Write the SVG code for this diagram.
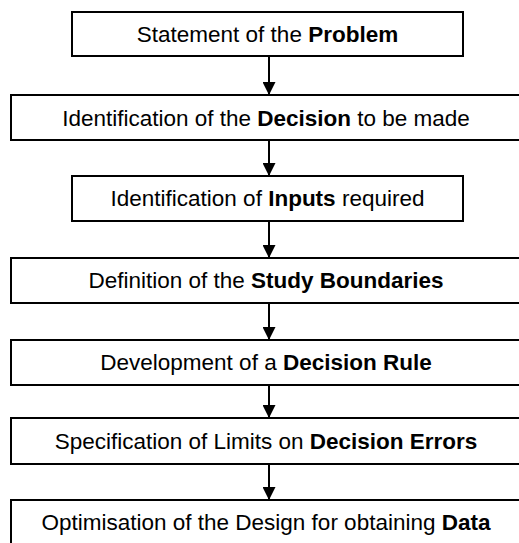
<svg xmlns="http://www.w3.org/2000/svg" width="519" height="543" viewBox="0 0 519 543">
<defs>
<style>
.box{fill:#fff;stroke:#000;stroke-width:2}
.t{font-family:"Liberation Sans",Arial,sans-serif;font-size:22.5px;fill:#000;text-anchor:middle}
.b{font-weight:bold}
.c{stroke:#000;stroke-width:2;fill:none}
</style>
<marker id="ah" markerWidth="13" markerHeight="13" viewBox="0 0 13 13" refX="13" refY="6.5" orient="auto" markerUnits="userSpaceOnUse">
<path d="M0,0 L13,6.5 L0,13 Z" fill="#000"/>
</marker>
</defs>
<rect width="519" height="543" fill="#fff"/>
<g id="connectors">
<line class="c" x1="269" y1="56" x2="269" y2="95" marker-end="url(#ah)"/>
<line class="c" x1="269" y1="140" x2="269" y2="176" marker-end="url(#ah)"/>
<line class="c" x1="269" y1="221" x2="269" y2="258" marker-end="url(#ah)"/>
<line class="c" x1="269" y1="303" x2="269" y2="340" marker-end="url(#ah)"/>
<line class="c" x1="269" y1="385" x2="269" y2="418" marker-end="url(#ah)"/>
<line class="c" x1="269" y1="464" x2="269" y2="500" marker-end="url(#ah)"/>
</g>
<g id="n1"><rect class="box" x="72" y="12" width="391" height="44"/><text class="t" x="267.5" y="42">Statement of the <tspan class="b">Problem</tspan></text></g>
<g id="n2"><rect class="box" x="11" y="95" width="520" height="45"/><text class="t" x="266" y="126">Identification of the <tspan class="b">Decision</tspan> to be made</text></g>
<g id="n3"><rect class="box" x="72" y="176" width="391" height="45"/><text class="t" x="267.5" y="206">Identification of <tspan class="b">Inputs</tspan> required</text></g>
<g id="n4"><rect class="box" x="11" y="258" width="520" height="45"/><text class="t" x="266" y="288">Definition of the <tspan class="b">Study Boundaries</tspan></text></g>
<g id="n5"><rect class="box" x="11" y="340" width="520" height="45"/><text class="t" x="266" y="370">Development of a <tspan class="b">Decision Rule</tspan></text></g>
<g id="n6"><rect class="box" x="11" y="418" width="520" height="46"/><text class="t" x="266" y="449">Specification of Limits on <tspan class="b">Decision Errors</tspan></text></g>
<g id="n7"><rect class="box" x="11" y="500" width="520" height="50"/><text class="t" x="266" y="530">Optimisation of the Design for obtaining <tspan class="b">Data</tspan></text></g>
</svg>
